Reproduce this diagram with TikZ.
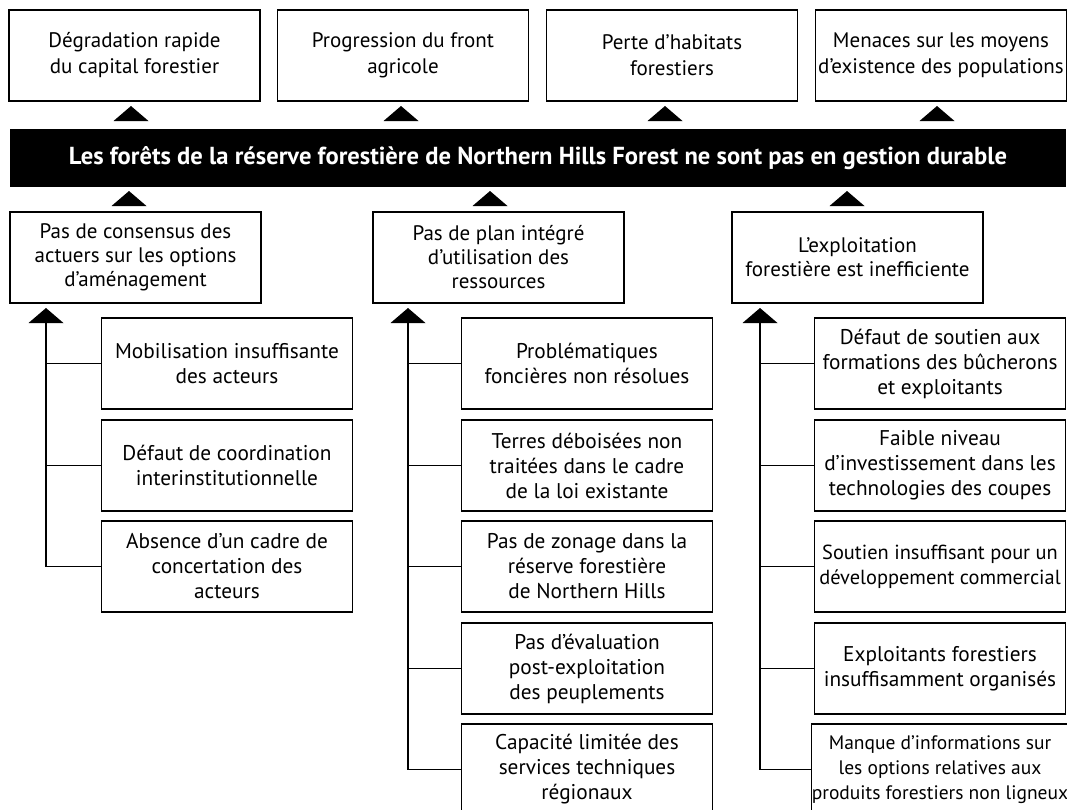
\documentclass[tikz,border=0pt]{standalone}
\usepackage{fontspec}
\setmainfont{PT Sans}
\usetikzlibrary{calc}
\newcommand\uptri[1]{\fill (#1) ++(-17.5,0) -- ++(35,0) -- ++(-17.5,-15) -- cycle;}
\begin{document}
\begin{tikzpicture}[x=1pt,y=-1pt,
  box/.style={draw=black, line width=1.3pt, fill=white, minimum width=251pt, minimum height=91pt, align=center, inner sep=0pt},
  topbox/.style={box, font=\fontsize{21}{26}\selectfont},
  midbox/.style={box, font=\fontsize{21}{24}\selectfont},
  subbox/.style={box, font=\fontsize{21.3}{25}\selectfont},
  link/.style={line width=1.3pt},
  barbox/.style={fill=black, text=white, minimum width=1056pt, minimum height=58pt, inner sep=0pt, font=\bfseries\fontsize{24.6}{26}\selectfont}
]
\useasboundingbox (0,0) rectangle (1067,809);
\clip (0,0) rectangle (1067,809);
\fill[white] (0,0) rectangle (1067,809);

% top effects
\node[topbox] (t1) at (134.5,55.5) {Dégradation rapide\\du capital forestier};
\node[topbox] (t2) at (403,55.5) {Progression du front\\agricole};
\node[topbox] (t3) at (672,55.5) {Perte d’habitats\\forestiers};
\node[topbox] (t4) at (941,55.5) {Menaces sur les moyens\\d’existence des populations};

% central problem
\node[barbox] (bar) at (538,158) {Les forêts de la réserve forestière de Northern Hills Forest ne sont pas en gestion durable};

% arrows bar -> effects
\coordinate (u1) at (131,121);
\coordinate (u2) at (401,121);
\coordinate (u3) at (665,121);
\coordinate (u4) at (937,121);
\uptri{u1}\uptri{u2}\uptri{u3}\uptri{u4}

% main causes
\node[midbox] (m1) at (135.5,257.5) {Pas de consensus des\\actuers sur les options\\d’aménagement};
\node[midbox] (m2) at (498.5,257.5) {Pas de plan intégré\\d’utilisation des\\ressources};
\node[midbox] (m3) at (857.5,257.5) {L’exploitation\\forestière est inefficiente};

\coordinate (v1) at (129,206);
\coordinate (v2) at (490,206);
\coordinate (v3) at (847,206);
\uptri{v1}\uptri{v2}\uptri{v3}

% sub-causes, left
\node[subbox] (a1) at (227,363.5) {Mobilisation insuffisante\\des acteurs};
\node[subbox] (a2) at (227,465.5) {Défaut de coordination\\interinstitutionnelle};
\node[subbox] (a3) at (227,566.5) {Absence d’un cadre de\\concertation des\\acteurs};

% sub-causes, middle
\node[subbox] (b1) at (587,363.5) {Problématiques\\foncières non résolues};
\node[subbox] (b2) at (587,465.5) {Terres déboisées non\\traitées dans le cadre\\de la loi existante};
\node[subbox] (b3) at (587,566.5) {Pas de zonage dans la\\réserve forestière\\de Northern Hills};
\node[subbox] (b4) at (587,668.5) {Pas d’évaluation\\post-exploitation\\des peuplements};
\node[subbox] (b5) at (587,769.5) {Capacité limitée des\\services techniques\\régionaux};

% sub-causes, right
\node[subbox] (c1) at (940,363.5) {Défaut de soutien aux\\formations des bûcherons\\et exploitants};
\node[subbox] (c2) at (940,465.5) {Faible niveau\\d’investissement dans les\\technologies des coupes};
\node[subbox, font=\fontsize{20.4}{25}\selectfont] (c3) at (940,566.5) {Soutien insuffisant pour un\\développement commercial};
\node[subbox] (c4) at (940,668.5) {Exploitants forestiers\\insuffisamment organisés};
\node[subbox, font=\fontsize{19.5}{25}\selectfont] (c5) at (940,769.5) {Manque d’informations sur\\les options relatives aux\\produits forestiers non ligneux};

% arrows sub-causes -> main causes
\coordinate (w1) at (46,323);
\coordinate (w2) at (408,323);
\coordinate (w3) at (760,323);
\uptri{w1}\uptri{w2}\uptri{w3}

\draw[link] (w1) |- (a3.west);
\draw[link] (w1 |- a1.west) -- (a1.west);
\draw[link] (w1 |- a2.west) -- (a2.west);

\draw[link] (w2) |- (b5.west);
\foreach \n in {b1,b2,b3,b4} \draw[link] (w2 |- \n.west) -- (\n.west);

\draw[link] (w3) |- (c5.west);
\foreach \n in {c1,c2,c3,c4} \draw[link] (w3 |- \n.west) -- (\n.west);
\end{tikzpicture}
\end{document}
